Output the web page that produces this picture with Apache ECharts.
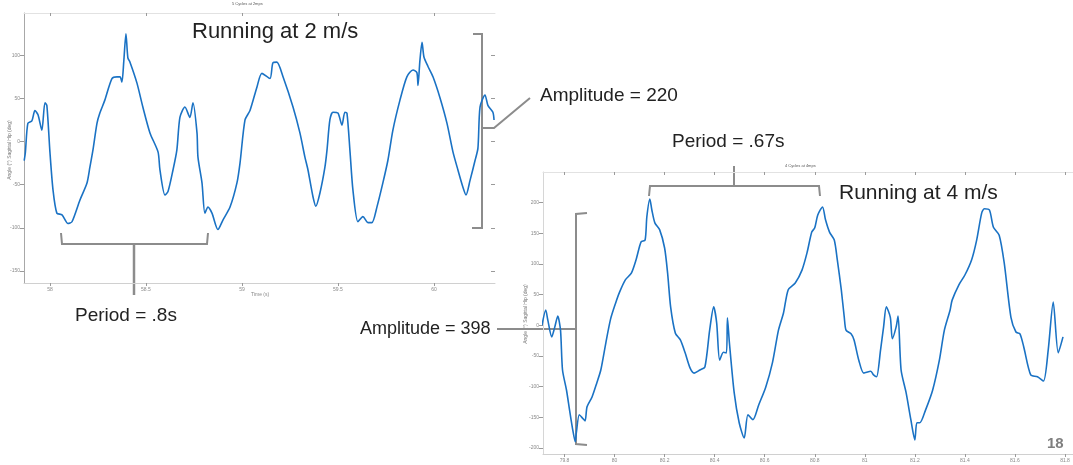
<!DOCTYPE html>
<html>
<head>
<meta charset="utf-8">
<script src="https://cdn.jsdelivr.net/npm/echarts@6/dist/echarts.min.js"></script>
<style>
  html, body { margin: 0; padding: 0; background: #fff; }
  #main { width: 1073px; height: 465px; }
</style>
</head>
<body>
<div id="main"></div>
<script>
// running at 2 m/s : time (s) and hip angle (deg)
var slowTime = [57.866, 57.872, 57.885, 57.906, 57.922, 57.938, 57.958, 57.974, 57.984, 58.000,
  58.016, 58.036, 58.063, 58.094, 58.115, 58.156, 58.193, 58.208, 58.224, 58.245,
  58.260, 58.286, 58.323, 58.349, 58.365, 58.375, 58.385, 58.396, 58.406, 58.417,
  58.453, 58.484, 58.521, 58.563, 58.573, 58.599, 58.615, 58.641, 58.661, 58.677,
  58.703, 58.729, 58.745, 58.766, 58.771, 58.792, 58.807, 58.823, 58.844, 58.875,
  58.901, 58.938, 58.974, 58.990, 59.016, 59.042, 59.078, 59.104, 59.146, 59.161,
  59.182, 59.214, 59.266, 59.302, 59.328, 59.344, 59.370, 59.385, 59.406, 59.432,
  59.443, 59.458, 59.474, 59.500, 59.521, 59.536, 59.547, 59.563, 59.578, 59.604,
  59.630, 59.656, 59.677, 59.703, 59.734, 59.760, 59.786, 59.823, 59.859, 59.891,
  59.911, 59.917, 59.927, 59.938, 59.948, 59.969, 59.995, 60.031, 60.068, 60.099,
  60.125, 60.151, 60.167, 60.188, 60.214, 60.229, 60.240, 60.266, 60.281, 60.307, 60.313];
var slowAngle = [-22, -13, 21, 24, 36, 31, 13, 45, 42, -12,
  -56, -83, -85, -95, -93, -68, -48, -30, -10, 21,
  33, 48, 73, 75, 75, 69, 94, 125, 97, 92,
  68, 40, 10, -12, -33, -62, -58, -33, -10, 28,
  40, 28, 45, 10, -18, -48, -83, -76, -83, -102,
  -91, -76, -48, -25, 25, 36, 63, 79, 73, 91,
  92, 75, 40, 10, -18, -33, -64, -75, -60, -30,
  -10, 25, 34, 33, 19, 34, 33, -12, -56, -93,
  -87, -94, -94, -76, -48, -22, 13, 48, 75, 83,
  80, 65, 94, 115, 98, 87, 75, 51, 21, -12,
  -33, -53, -62, -45, -22, -8, 40, 54, 42, 34, 25];

// running at 4 m/s
var fastTime = [79.710, 79.725, 79.733, 79.749, 79.761, 79.773, 79.784, 79.792, 79.808, 79.820,
  79.831, 79.843, 79.847, 79.859, 79.871, 79.882, 79.890, 79.910, 79.929, 79.945,
  79.965, 79.984, 80.004, 80.020, 80.043, 80.067, 80.086, 80.106, 80.122, 80.129,
  80.141, 80.149, 80.161, 80.180, 80.200, 80.212, 80.224, 80.243, 80.263, 80.282,
  80.302, 80.318, 80.341, 80.361, 80.380, 80.396, 80.408, 80.420, 80.435, 80.447,
  80.451, 80.459, 80.478, 80.498, 80.518, 80.533, 80.553, 80.576, 80.604, 80.631,
  80.655, 80.675, 80.694, 80.722, 80.749, 80.769, 80.788, 80.800, 80.812, 80.831,
  80.843, 80.859, 80.878, 80.890, 80.906, 80.918, 80.925, 80.945, 80.957, 80.976,
  80.996, 81.024, 81.035, 81.047, 81.063, 81.075, 81.086, 81.102, 81.110, 81.125,
  81.133, 81.145, 81.165, 81.184, 81.200, 81.208, 81.220, 81.243, 81.271, 81.298,
  81.318, 81.341, 81.349, 81.376, 81.400, 81.427, 81.447, 81.467, 81.478, 81.498,
  81.514, 81.537, 81.557, 81.584, 81.604, 81.620, 81.635, 81.663, 81.690, 81.714,
  81.733, 81.753, 81.773, 81.792];
var fastAngle = [0, 25, 9, -19, -3, 15, -8, -73, -106, -138,
  -166, -190, -176, -146, -151, -156, -133, -117, -94, -73,
  -29, 10, 36, 54, 74, 85, 107, 136, 139, 177,
  206, 188, 167, 156, 126, 85, 30, -13, -24, -45,
  -70, -78, -73, -68, -8, 30, 4, -57, -44, -45,
  12, -29, -110, -159, -184, -146, -154, -130, -101, -61,
  -8, 20, 58, 69, 90, 118, 152, 159, 180, 193,
  172, 152, 139, 107, 58, 13, -8, -14, -24, -57,
  -78, -75, -81, -84, -40, -3, 30, 13, -22, -3,
  15, -73, -110, -154, -187, -159, -159, -138, -106, -57,
  -8, 25, 41, 66, 82, 107, 139, 183, 190, 188,
  160, 147, 102, 13, -11, -14, -35, -81, -84, -91,
  -40, 38, -45, -19];

var slowXTicks = [58, 58.5, 59, 59.5, 60];
var slowYTicks = [-150, -100, -50, 0, 50, 100];
var fastXTicks = [79.8, 80, 80.2, 80.4, 80.6, 80.8, 81, 81.2, 81.4, 81.6, 81.8];
var fastYTicks = [-200, -150, -100, -50, 0, 50, 100, 150, 200];

function zip(a, b) {
  var out = [];
  for (var i = 0; i < a.length; i++) { out.push([a[i], b[i]]); }
  return out;
}

var chart = echarts.init(document.getElementById('main'));
var blue = '#1a72c4';
var bracket = '#8c8c8c';
var bigFont = 'Liberation Sans';

function xAxisFor(grid, min, max, ticks, top) {
  return {
    type: 'value', gridIndex: grid, min: min, max: max,
    position: top ? 'top' : 'bottom',
    axisLine: { show: true, onZero: false, lineStyle: { color: top ? '#e2e2e2' : '#d0d0d0', width: 1 } },
    axisTick: { show: true, inside: top, length: 3, customValues: ticks, lineStyle: { color: '#9a9a9a' } },
    axisLabel: { show: !top, customValues: ticks, margin: 4, fontSize: 5, color: '#8a8a8a' },
    splitLine: { show: false }
  };
}
function yAxisFor(grid, min, max, ticks, right, lineColor) {
  return {
    type: 'value', gridIndex: grid, min: min, max: max,
    position: right ? 'right' : 'left',
    axisLine: { show: !right, onZero: false, lineStyle: { color: lineColor, width: 1 } },
    axisTick: { show: true, inside: right, length: 4, customValues: ticks, lineStyle: { color: '#9a9a9a' } },
    axisLabel: { show: !right, customValues: ticks, margin: 4, fontSize: 5, color: '#8a8a8a' },
    splitLine: { show: false }
  };
}

var option = {
  backgroundColor: '#ffffff',
  animation: false,
  grid: [
    { left: 24, top: 13, width: 471, height: 270 },
    { left: 543, top: 172, width: 540, height: 282 }
  ],
  xAxis: [
    xAxisFor(0, 57.865, 60.318, slowXTicks, false),
    xAxisFor(0, 57.865, 60.318, slowXTicks, true),
    xAxisFor(1, 79.714, 81.832, fastXTicks, false),
    xAxisFor(1, 79.714, 81.832, fastXTicks, true)
  ],
  yAxis: [
    yAxisFor(0, -164, 149, slowYTicks, false, '#a8a8a8'),
    yAxisFor(0, -164, 149, slowYTicks, true, '#a8a8a8'),
    yAxisFor(1, -210, 250, fastYTicks, false, '#d6d6d6')
  ],
  series: [
    {
      type: 'line', xAxisIndex: 0, yAxisIndex: 0, data: zip(slowTime, slowAngle),
      showSymbol: false, smooth: 0.25, lineStyle: { color: blue, width: 1.6 }
    },
    {
      type: 'line', xAxisIndex: 2, yAxisIndex: 2, data: zip(fastTime, fastAngle),
      showSymbol: false, smooth: 0.25, lineStyle: { color: blue, width: 1.6 }
    }
  ],
  graphic: [
    // tiny plot titles and axis names
    { type: 'text', left: 232, top: 2, style: { text: '5 Cycles at 2mps', font: '4px Liberation Sans', fill: '#555' } },
    { type: 'text', left: 785, top: 164, style: { text: '4 Cycles at 4mps', font: '4px Liberation Sans', fill: '#555' } },
    { type: 'text', left: 251, top: 292, style: { text: 'Time (s)', font: '5px Liberation Sans', fill: '#888' } },
    { type: 'text', x: 10, y: 150, rotation: Math.PI / 2, style: { text: 'Angle (°) Sagittal Hip (deg)', font: '5px Liberation Sans', fill: '#777', align: 'center', verticalAlign: 'middle' } },
    { type: 'text', x: 526, y: 314, rotation: Math.PI / 2, style: { text: 'Angle (°) Sagittal Hip (deg)', font: '5px Liberation Sans', fill: '#777', align: 'center', verticalAlign: 'middle' } },

    // big labels
    { type: 'text', left: 192, top: 21, style: { text: 'Running at 2 m/s', font: '22px ' + bigFont, fill: '#222' } },
    { type: 'text', left: 839, top: 183, style: { text: 'Running at 4 m/s', font: '21px ' + bigFont, fill: '#222' } },
    { type: 'text', left: 540, top: 86, style: { text: 'Amplitude = 220', font: '19px ' + bigFont, fill: '#222' } },
    { type: 'text', left: 672, top: 132, style: { text: 'Period = .67s', font: '19px ' + bigFont, fill: '#222' } },
    { type: 'text', left: 75, top: 306, style: { text: 'Period = .8s', font: '19px ' + bigFont, fill: '#222' } },
    { type: 'text', left: 360, top: 320, style: { text: 'Amplitude = 398', font: '18px ' + bigFont, fill: '#222' } },
    { type: 'text', left: 1047, top: 436, style: { text: '18', font: 'bold 15px ' + bigFont, fill: '#7f7f7f' } },

    // amplitude 220 bracket
    { type: 'polyline', shape: { points: [[473, 34], [482, 34], [482, 228], [472, 228]] }, style: { stroke: bracket, lineWidth: 2, fill: null } },
    { type: 'polyline', shape: { points: [[482, 128], [494, 128], [530, 98]] }, style: { stroke: bracket, lineWidth: 2, fill: null } },
    // period .8s bracket
    { type: 'polyline', shape: { points: [[61, 233], [62, 244], [207, 244], [208, 233]] }, style: { stroke: bracket, lineWidth: 2, fill: null } },
    { type: 'line', shape: { x1: 134, y1: 244, x2: 134, y2: 295 }, style: { stroke: bracket, lineWidth: 2.5 } },
    // period .67s bracket
    { type: 'polyline', shape: { points: [[649, 196], [650, 186], [819, 186], [820, 196]] }, style: { stroke: bracket, lineWidth: 2, fill: null } },
    { type: 'line', shape: { x1: 734, y1: 186, x2: 734, y2: 166 }, style: { stroke: bracket, lineWidth: 2 } },
    // amplitude 398 bracket
    { type: 'polyline', shape: { points: [[587, 213], [576, 214], [576, 444], [587, 445]] }, style: { stroke: bracket, lineWidth: 2, fill: null } },
    { type: 'line', shape: { x1: 497, y1: 329, x2: 576, y2: 329 }, style: { stroke: bracket, lineWidth: 2 } }
  ]
};
chart.setOption(option);
</script>
</body>
</html>
